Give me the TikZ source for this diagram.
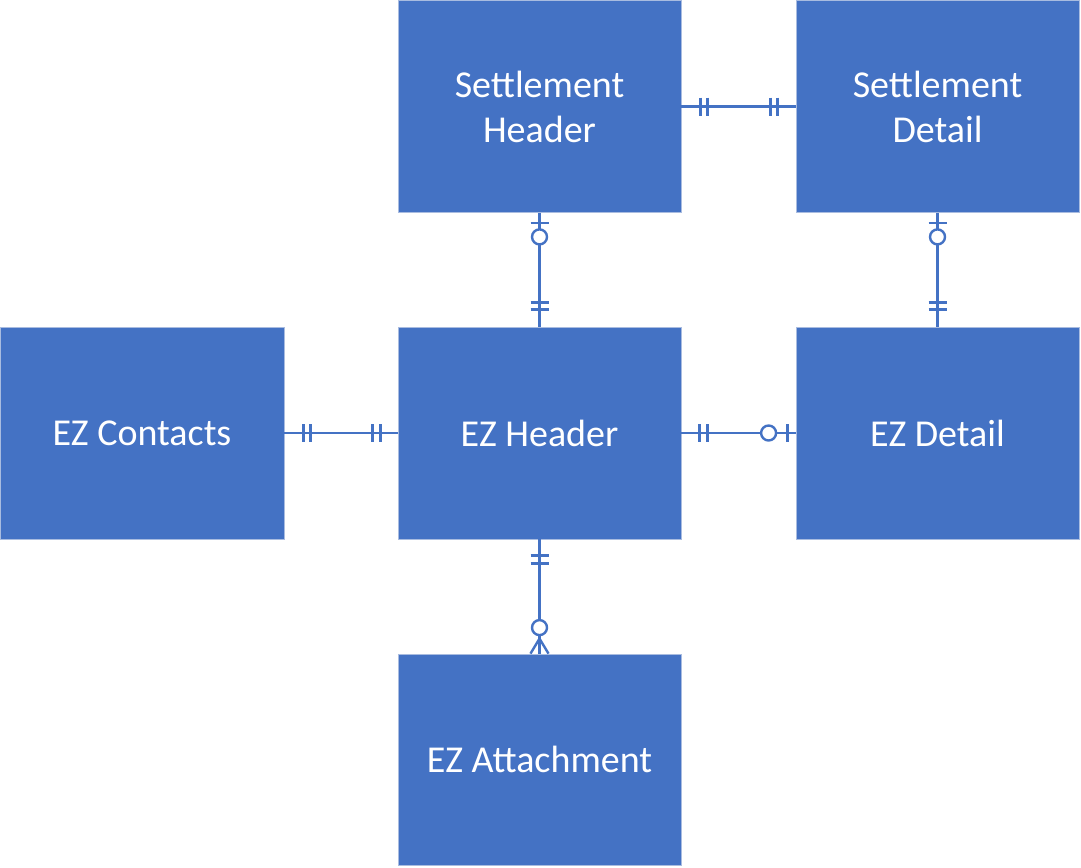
\documentclass[tikz,border=0pt]{standalone}
\usepackage{fontspec}
\setmainfont{Carlito}
\usetikzlibrary{calc}
\definecolor{officeblue}{HTML}{4472C4}
\definecolor{edgeblue}{HTML}{A9BCE0}
\begin{document}
\begin{tikzpicture}[x=1pt,y=-1pt,
  entity/.style={rectangle, fill=officeblue, draw=edgeblue, line width=0.8pt,
    minimum width=283pt, minimum height=212pt, inner sep=0pt,
    text=white, font=\fontsize{38}{45}\selectfont, align=center},
  rel/.style={draw=officeblue, line width=2.4pt},
  ring/.style={draw=officeblue, line width=2.4pt, fill=white}]
\useasboundingbox (0,0) rectangle (1081,867);
\fill[white] (0,0) rectangle (1081,867);
% entities
\node[entity] (SH) at (539.5,106.5) {Settlement\\Header};
\node[entity] (SD) at (937.5,106.5) {Settlement\\Detail};
\node[entity, minimum width=284pt] (EC) at (142,433) {EZ Contacts};
\node[entity] (EH) at (539.5,433) {EZ Header};
\node[entity] (ED) at (937.5,433) {EZ Detail};
\node[entity, minimum height=211pt] (EA) at (539.5,759.5) {EZ Attachment};
% SH -- SD
\draw[rel] (SH.east) -- (SD.west);
\foreach \d in {19,26} \draw[rel] ($(SH.east)+(\d,-9)$) -- ++(0,18);
\foreach \d in {18,25} \draw[rel] ($(SD.west)+(-\d,-9)$) -- ++(0,18);
% SH -- EH
\draw[rel] (SH.south) -- (EH.north);
\draw[rel] ($(SH.south)+(-9,10)$) -- ++(18,0);
\draw[ring] ($(SH.south)+(0,24)$) circle (7.5pt);
\foreach \d in {17,24} \draw[rel] ($(EH.north)+(-9,-\d)$) -- ++(18,0);
% SD -- ED
\draw[rel] (SD.south) -- (ED.north);
\draw[rel] ($(SD.south)+(-9,10)$) -- ++(18,0);
\draw[ring] ($(SD.south)+(0,24)$) circle (7.5pt);
\foreach \d in {17,24} \draw[rel] ($(ED.north)+(-9,-\d)$) -- ++(18,0);
% EC -- EH
\draw[rel] (EC.east) -- (EH.west);
\foreach \d in {19,26} \draw[rel] ($(EC.east)+(\d,-9)$) -- ++(0,18);
\foreach \d in {17,25} \draw[rel] ($(EH.west)+(-\d,-9)$) -- ++(0,18);
% EH -- ED
\draw[rel] (EH.east) -- (ED.west);
\foreach \d in {18,26} \draw[rel] ($(EH.east)+(\d,-9)$) -- ++(0,18);
\draw[rel] ($(ED.west)+(-8,-9)$) -- ++(0,18);
\draw[ring] ($(ED.west)+(-27,0)$) circle (7.5pt);
% EH -- EA
\draw[rel] (EH.south) -- (EA.north);
\foreach \d in {16,24} \draw[rel] ($(EH.south)+(-9,\d)$) -- ++(18,0);
\draw[ring] ($(EA.north)+(0,-26)$) circle (7.5pt);
\draw[rel] ($(EA.north)+(-9,0)$) -- ($(EA.north)+(0,-15)$) -- ($(EA.north)+(9,0)$);
\end{tikzpicture}
\end{document}
